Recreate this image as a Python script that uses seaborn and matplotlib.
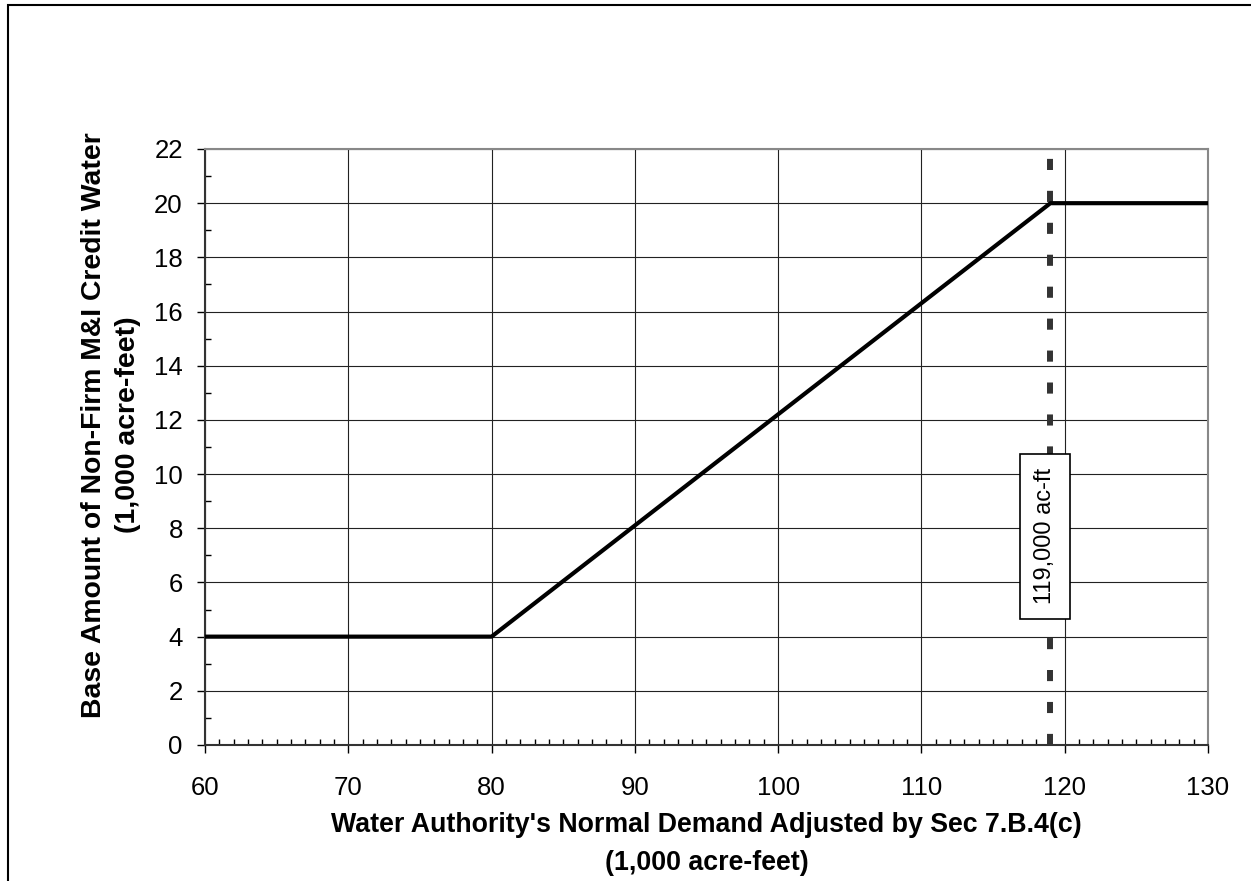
import matplotlib
matplotlib.use("Agg")
import matplotlib.pyplot as plt
from matplotlib.patches import Rectangle
from matplotlib.ticker import MultipleLocator
import seaborn as sns
import pandas as pd

# Curve break points (1,000 acre-feet)
demand = [60, 80, 119, 130]
credit = [4, 4, 20, 20]
threshold = 119
threshold_label = "119,000 ac-ft"

sns.set_style("white")
plt.rcParams['font.family'] = ['Liberation Sans', 'DejaVu Sans']
plt.rcParams['lines.scale_dashes'] = False
plt.rcParams['text.color'] = 'black'
plt.rcParams['axes.labelcolor'] = 'black'

df = pd.DataFrame({'demand': demand, 'credit': credit})

fig = plt.figure(figsize=(12.51, 8.81), dpi=100)
ax = fig.add_axes([205 / 1251, 1 - 745 / 881, 1003 / 1251, 596 / 881])

# outer frame (runs off the right and bottom edges)
fig.patches.append(Rectangle((8 / 1251, -0.05), 1.2, 1 - 5 / 881 + 0.05,
                             transform=fig.transFigure, fill=False,
                             edgecolor='black', linewidth=1.5))

sns.lineplot(data=df, x='demand', y='credit', color='black', linewidth=3,
             ax=ax, zorder=4)
vl = ax.axvline(threshold, color='#333333', linewidth=4.3, zorder=3)
vl.set_dashes((8, 15))
vl.set_dash_capstyle('butt')

ax.text(threshold - 0.38, 7.7, threshold_label, rotation=90, ha='center', va='center',
        fontsize=17, color='black', zorder=5,
        bbox=dict(boxstyle='square,pad=0.6', facecolor='white', edgecolor='black', linewidth=1.2))

ax.set_xlim(60, 130)
ax.set_ylim(0, 22)
ax.xaxis.set_major_locator(MultipleLocator(10))
ax.xaxis.set_minor_locator(MultipleLocator(1))
ax.yaxis.set_major_locator(MultipleLocator(2))
ax.yaxis.set_minor_locator(MultipleLocator(1))

ax.grid(True, which='major', color='#222222', linewidth=0.8)
ax.set_axisbelow(True)

ax.tick_params(which='both', bottom=True, left=True, top=False, right=False)
ax.tick_params(which='major', direction='out', length=6, width=1, labelsize=18.5,
               colors='black')
ax.tick_params(which='minor', direction='in', length=4.5, width=1, colors='black')
ax.tick_params(axis='y', which='major', pad=10)
ax.tick_params(axis='x', which='major', pad=16)

for side in ['left', 'bottom']:
    ax.spines[side].set_color('#333333')
    ax.spines[side].set_linewidth(1.5)
for side in ['top', 'right']:
    ax.spines[side].set_color('#888888')
    ax.spines[side].set_linewidth(1.5)

ax.set_xlabel("Water Authority's Normal Demand Adjusted by Sec 7.B.4(c)\n(1,000 acre-feet)",
              fontsize=19.3, fontweight='bold', linespacing=1.62, labelpad=9, color='black')
ax.set_ylabel("Base Amount of Non-Firm M&I Credit Water\n(1,000 acre-feet)",
              fontsize=20.4, fontweight='bold', linespacing=1.38, color='black')
ax.yaxis.set_label_coords(-0.064, 0.537)

fig.savefig("out.png", dpi=100)
